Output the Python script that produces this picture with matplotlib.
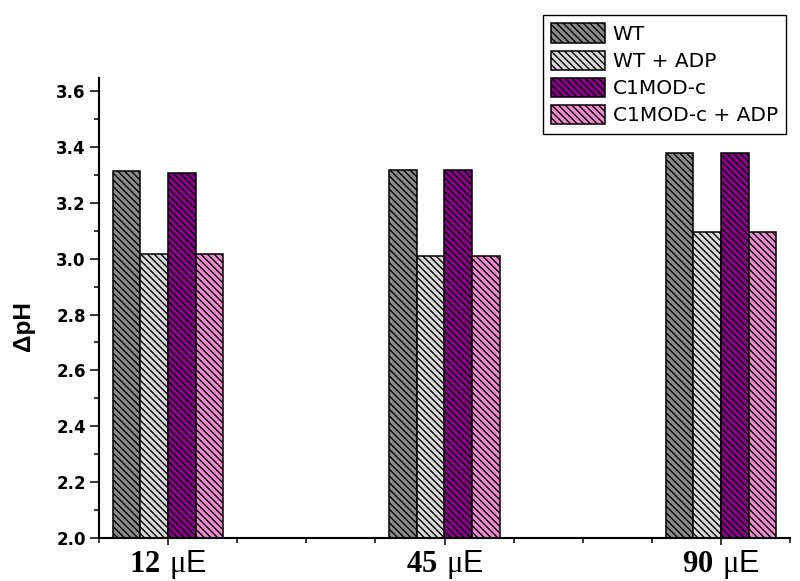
import numpy as np
import matplotlib
matplotlib.use("Agg")
import matplotlib.pyplot as plt
from matplotlib.ticker import MultipleLocator, FixedLocator

# Light intensities (µE) and ΔpH values per strain/treatment
intensities = ["12", "45", "90"]
series_names = ["WT", "WT + ADP", "C1MOD-c", "C1MOD-c + ADP"]
wt = [3.313, 3.317, 3.378]
wt_adp = [3.017, 3.009, 3.096]
c1mod = [3.307, 3.317, 3.378]
c1mod_adp = [3.018, 3.010, 3.096]
colors = ["#8a8a8a", "#d8d8d8", "#8c008c", "#f08ad2"]
y_ticks = [2.0, 2.2, 2.4, 2.6, 2.8, 3.0, 3.2, 3.4, 3.6]

plt.rcParams["hatch.linewidth"] = 1.0
plt.rcParams["mathtext.fontset"] = "custom"
plt.rcParams["mathtext.rm"] = "Liberation Serif"
plt.rcParams["mathtext.bf"] = "Liberation Serif:bold"
plt.rcParams["mathtext.sf"] = "Liberation Sans"

fig = plt.figure(figsize=(8.0, 5.81), dpi=100)
ax = fig.add_axes([0.12375, 0.0740, 0.86375, 0.7917])

x = np.arange(1, len(intensities) + 1)
width = 0.1
offsets = [-1.5, -0.5, 0.5, 1.5]
handles = []
for vals, name, col, off in zip([wt, wt_adp, c1mod, c1mod_adp], series_names, colors, offsets):
    b = ax.bar(x + off * width, vals, width, bottom=0, color=col, edgecolor="black",
               linewidth=1.1, hatch="\\\\\\\\\\", label=name)
    handles.append(b)

ax.set_ylim(2.0, 3.6465)
ax.set_xlim(0.75, 3.25)

for side in ["top", "right"]:
    ax.spines[side].set_visible(False)
for side in ["left", "bottom"]:
    ax.spines[side].set_linewidth(1.5)

ax.set_yticks(y_ticks)
ax.yaxis.set_minor_locator(MultipleLocator(0.1))
ax.set_yticklabels([f"{v:.1f}" for v in y_ticks],
                   fontfamily="DejaVu Sans", fontweight="bold", fontsize=12)

ax.set_xticks(x)
ax.xaxis.set_minor_locator(FixedLocator(np.arange(0.75, 3.26, 0.25)))
ax.set_xticklabels([r"$\mathbf{%s}\ \mathrm{μ}\mathsf{E}$" % s for s in intensities],
                   fontsize=22)

ax.tick_params(axis="y", which="major", direction="out", length=6.5, width=1.1, pad=3)
ax.tick_params(axis="y", which="minor", direction="out", length=3.6, width=1.1)
ax.tick_params(axis="x", which="major", direction="out", length=5, width=1.1, pad=2)
ax.tick_params(axis="x", which="minor", direction="out", length=3.6, width=1.1)

ax.set_ylabel("ΔpH", fontfamily="Liberation Sans", fontweight="bold", fontsize=17.5)
ax.yaxis.set_label_coords(-0.093, 0.46)

leg = fig.legend(handles=handles, labels=series_names, loc="upper left",
                 bbox_to_anchor=(543 / 800, 1 - 15 / 581), borderaxespad=0,
                 prop={"family": "DejaVu Sans", "size": 14.5},
                 frameon=True, fancybox=False, edgecolor="black", framealpha=1,
                 handlelength=2.64, handleheight=1.1, handletextpad=0.4,
                 labelspacing=0.33, borderpad=0.42)
leg.get_frame().set_linewidth(1.0)

fig.savefig("out.png", dpi=100)
